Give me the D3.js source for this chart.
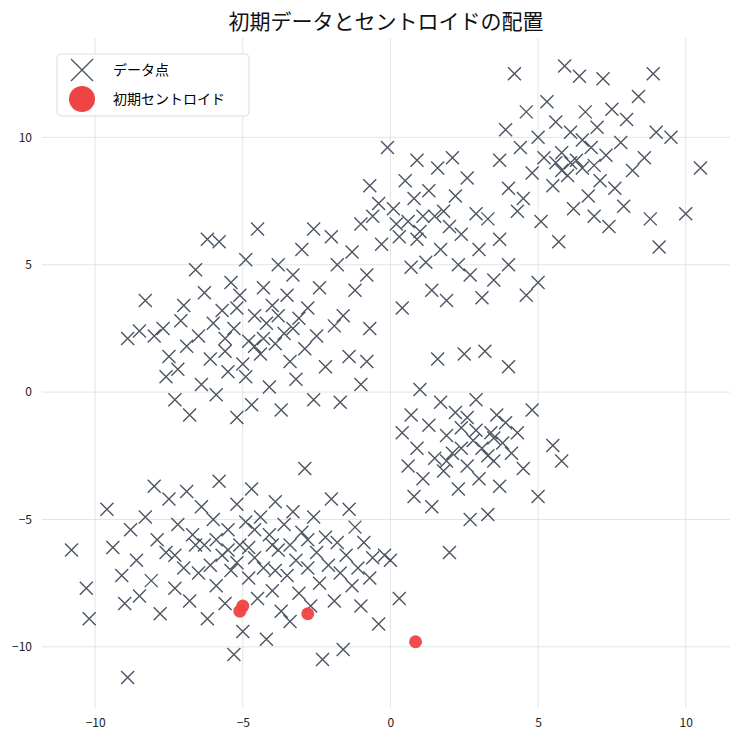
<!DOCTYPE html>
<html><head><meta charset="utf-8">
<script src="https://cdn.jsdelivr.net/npm/d3@7"></script>
<style>body{margin:0;background:#fff}</style>
</head><body>
<svg id="chart" width="740" height="740"></svg>
<script>
// cluster points (approximate)
const clusterUpperLeft = [[-8.9,2.1],[-8.5,2.4],[-8.3,3.6],[-8.0,2.2],[-7.7,2.5],[-7.6,0.6],[-7.5,1.4],[-7.3,-0.3],[-7.2,0.9],[-7.1,2.8],[-7.0,3.4],[-6.9,1.8],[-6.8,-0.9],[-6.6,4.8],[-6.5,2.2],[-6.4,0.3],[-6.3,3.9],[-6.2,6.0],[-6.1,1.3],[-6.0,2.7],[-5.9,-0.1],[-5.8,5.9],[-5.7,3.2],[-5.6,1.6],[-5.5,0.8],[-5.4,4.3],[-5.3,2.5],[-5.2,-1.0],[-5.1,3.8],[-5.0,1.1],[-4.9,5.2],[-4.8,2.0],[-4.7,-0.5],[-4.6,3.0],[-4.5,6.4],[-4.4,1.5],[-4.3,4.1],[-4.2,2.7],[-4.1,0.2],[-4.0,3.4],[-3.9,1.9],[-3.8,5.0],[-3.7,-0.7],[-3.6,2.3],[-3.5,3.8],[-3.4,1.2],[-3.3,4.6],[-3.2,0.5],[-3.1,2.9],[-3.0,5.6],[-2.9,1.7],[-2.8,3.3],[-2.6,-0.3],[-2.5,2.2],[-2.4,4.1],[-2.2,1.0],[-2.0,6.1],[-1.9,2.6],[-1.7,-0.4],[-1.6,3.0],[-1.4,1.4],[-1.2,4.0],[-1.0,0.3],[-0.8,1.2],[-0.7,2.5],[-5.6,2.1],[-4.9,0.6],[-4.3,2.1],[-3.8,3.0],[-3.3,2.5],[-5.2,3.3],[-4.6,1.8]];
const clusterLowerLeft = [[-10.8,-6.2],[-10.3,-7.7],[-10.2,-8.9],[-9.6,-4.6],[-9.4,-6.1],[-9.1,-7.2],[-9.0,-8.3],[-8.9,-11.2],[-8.8,-5.4],[-8.6,-6.6],[-8.5,-8.0],[-8.3,-4.9],[-8.1,-7.4],[-8.0,-3.7],[-7.9,-5.8],[-7.8,-8.7],[-7.6,-6.3],[-7.5,-4.2],[-7.3,-7.7],[-7.2,-5.2],[-7.0,-6.9],[-6.9,-3.9],[-6.8,-8.2],[-6.7,-5.6],[-6.5,-7.1],[-6.4,-4.5],[-6.3,-6.0],[-6.2,-8.9],[-6.0,-5.0],[-5.9,-7.6],[-5.8,-3.5],[-5.7,-6.4],[-5.6,-8.3],[-5.5,-5.4],[-5.4,-7.0],[-5.3,-10.3],[-5.2,-4.4],[-5.1,-6.0],[-5.0,-9.4],[-4.9,-5.1],[-4.8,-7.3],[-4.7,-3.8],[-4.6,-6.5],[-4.5,-8.1],[-4.4,-4.9],[-4.3,-6.9],[-4.2,-9.7],[-4.1,-5.6],[-4.0,-7.8],[-3.9,-4.3],[-3.8,-6.2],[-3.7,-8.6],[-3.6,-5.2],[-3.5,-7.2],[-3.4,-9.0],[-3.3,-4.7],[-3.2,-6.6],[-3.1,-7.9],[-3.0,-5.5],[-2.9,-3.0],[-2.8,-6.9],[-2.7,-8.4],[-2.6,-4.9],[-2.5,-6.3],[-2.4,-7.5],[-2.3,-10.5],[-2.2,-5.7],[-2.1,-6.8],[-2.0,-4.2],[-1.9,-8.2],[-1.8,-5.9],[-1.7,-7.1],[-1.6,-10.1],[-1.5,-6.4],[-1.4,-4.6],[-1.3,-7.6],[-1.2,-5.3],[-1.1,-6.9],[-1.0,-8.4],[-0.9,-5.9],[-0.7,-7.3],[-0.6,-6.5],[-0.4,-9.1],[-0.2,-6.4],[0.0,-6.6],[0.3,-8.1],[-6.6,-6.0],[-5.9,-5.8],[-5.2,-6.7],[-4.6,-5.4],[-4.0,-6.0],[-3.4,-6.0],[-2.8,-5.8],[-5.5,-6.2],[-4.8,-6.1],[-7.3,-6.4],[-6.1,-6.8],[-3.9,-7.0]];
const clusterMidRight = [[0.4,-1.6],[0.6,-2.9],[0.7,-0.9],[0.8,-4.1],[0.9,-2.2],[1.0,0.1],[1.1,-3.4],[1.3,-1.3],[1.4,-4.5],[1.5,-2.6],[1.6,1.3],[1.7,-0.4],[1.8,-3.1],[1.9,-1.7],[2.0,-6.3],[2.1,-2.4],[2.2,-0.8],[2.3,-3.8],[2.4,-1.4],[2.5,1.5],[2.6,-2.9],[2.7,-5.0],[2.8,-1.9],[2.9,-0.3],[3.0,-3.4],[3.1,-2.2],[3.2,1.6],[3.3,-4.8],[3.4,-1.6],[3.5,-2.7],[3.6,-0.9],[3.7,-3.7],[3.8,-2.0],[3.9,-1.2],[4.0,1.0],[4.1,-2.4],[4.3,-1.6],[4.5,-3.0],[4.8,-0.7],[5.0,-4.1],[5.5,-2.1],[5.8,-2.7],[2.4,-2.2],[2.9,-1.5],[3.3,-2.5],[1.9,-2.7],[2.6,-1.0],[3.5,-1.8]];
const clusterUpperRight = [[3.7,9.1],[3.9,10.3],[4.0,8.0],[4.2,12.5],[4.4,9.6],[4.5,7.6],[4.6,11.0],[4.8,8.6],[5.0,10.0],[5.1,6.7],[5.2,9.2],[5.3,11.4],[5.5,8.1],[5.6,10.6],[5.7,5.9],[5.8,9.4],[5.9,12.8],[6.0,8.5],[6.1,10.2],[6.2,7.2],[6.3,9.1],[6.4,12.4],[6.5,8.8],[6.6,11.0],[6.7,7.7],[6.8,9.6],[6.9,6.9],[7.0,10.4],[7.1,8.3],[7.2,12.3],[7.3,9.3],[7.4,6.5],[7.5,11.1],[7.6,8.0],[7.8,9.8],[7.9,7.3],[8.0,10.7],[8.2,8.7],[8.4,11.6],[8.6,9.2],[8.8,6.8],[8.9,12.5],[9.0,10.2],[9.1,5.7],[9.5,10.0],[10.0,7.0],[10.5,8.8],[6.1,9.0],[5.8,8.7],[6.5,9.9],[5.6,9.0],[6.9,8.9]];
const clusterCenter = [[-1.3,5.5],[-1.0,6.6],[-0.8,4.6],[-0.7,8.1],[-0.6,6.9],[-0.4,7.4],[-0.3,5.8],[-0.1,9.6],[0.1,7.2],[0.3,6.1],[0.4,3.3],[0.5,8.3],[0.6,6.7],[0.7,4.9],[0.8,7.6],[0.9,9.1],[1.0,6.3],[1.2,5.1],[1.3,7.9],[1.4,4.0],[1.5,6.9],[1.6,8.8],[1.7,5.6],[1.8,7.1],[1.9,3.6],[2.0,6.5],[2.1,9.2],[2.2,7.7],[2.3,5.0],[2.4,6.2],[2.6,8.4],[2.7,4.6],[2.9,7.0],[3.0,5.6],[3.1,3.7],[3.3,6.8],[3.5,4.4],[3.7,6.0],[4.0,5.0],[4.3,7.1],[4.6,3.8],[5.0,4.3],[-2.6,6.4],[-1.8,5.0],[0.2,6.6],[1.1,6.9],[0.9,6.0]];
const centroids = [[-5.1,-8.6],[-5.0,-8.4],[-2.8,-8.7],[0.85,-9.8]];
const xTicks = [-10,-5,0,5,10];
const yTicks = [-10,-5,0,5,10];
const points = [].concat(clusterUpperLeft, clusterLowerLeft, clusterMidRight, clusterUpperRight, clusterCenter);

const svg = d3.select("#chart");
const mLeft = 42, mRight = 730, mTop = 38, mBottom = 708;
const x = d3.scaleLinear().domain([-11.8, 11.5]).range([mLeft, mRight]);
const y = d3.scaleLinear().domain([-12.4, 13.9]).range([mBottom, mTop]);
const font = "'Noto Sans CJK JP', 'DejaVu Sans', sans-serif";

// grid
svg.append("g").selectAll("line").data(xTicks).join("line")
  .attr("x1", d => x(d)).attr("x2", d => x(d)).attr("y1", mTop).attr("y2", mBottom)
  .attr("stroke", "#ddd").attr("stroke-width", 0.8);
svg.append("g").selectAll("line").data(yTicks).join("line")
  .attr("y1", d => y(d)).attr("y2", d => y(d)).attr("x1", mLeft).attr("x2", mRight)
  .attr("stroke", "#ddd").attr("stroke-width", 0.8);

svg.append("g").attr("transform", `translate(0,${mBottom})`)
  .call(d3.axisBottom(x).tickValues(xTicks).tickSize(0).tickPadding(10))
  .call(g => g.select(".domain").remove())
  .selectAll("text").attr("font-family", font).attr("font-size", 12).attr("fill", "#222");
svg.append("g").attr("transform", `translate(${mLeft},0)`)
  .call(d3.axisLeft(y).tickValues(yTicks).tickSize(0).tickPadding(10))
  .call(g => g.select(".domain").remove())
  .selectAll("text").attr("font-family", font).attr("font-size", 12).attr("fill", "#222");

const s = 6.5;
const xMark = (g, px, py, r) => g.append("path")
  .attr("d", `M${px-r},${py-r}L${px+r},${py+r}M${px-r},${py+r}L${px+r},${py-r}`)
  .attr("stroke", "#4b5563").attr("stroke-width", 1.4).attr("fill", "none");

const pg = svg.append("g");
points.forEach(p => xMark(pg, x(p[0]), y(p[1]), s));

svg.append("g").selectAll("circle").data(centroids).join("circle")
  .attr("cx", d => x(d[0])).attr("cy", d => y(d[1])).attr("r", 6.5)
  .attr("fill", "#ef4444").attr("opacity", 0.95);

svg.append("text").attr("x", (mLeft + mRight) / 2).attr("y", 29).attr("text-anchor", "middle")
  .attr("font-family", font).attr("font-size", 21).attr("fill", "#111").text("初期データとセントロイドの配置");

// legend
const lg = svg.append("g").attr("transform", "translate(57,54)");
lg.append("rect").attr("width", 192).attr("height", 62).attr("rx", 4)
  .attr("fill", "#fff").attr("fill-opacity", 0.85).attr("stroke", "#ddd");
xMark(lg, 25, 16, 11);
lg.append("circle").attr("cx", 25).attr("cy", 45).attr("r", 13).attr("fill", "#ef4444");
lg.append("text").attr("x", 56).attr("y", 21).attr("font-family", font).attr("font-size", 14).text("データ点");
lg.append("text").attr("x", 56).attr("y", 50).attr("font-family", font).attr("font-size", 14).text("初期セントロイド");
</script>
</body></html>
